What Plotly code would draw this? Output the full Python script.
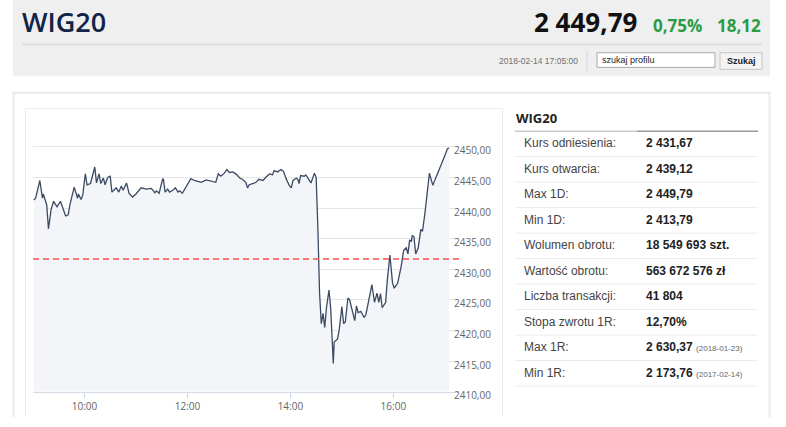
import plotly.graph_objects as go

# intraday WIG20 quotes, 2018-02-14
session_day = "2018-02-14"
times = ["09:01", "09:03", "09:08", "09:11", "09:12", "09:15", "09:16", "09:18", "09:21", "09:24",
         "09:28", "09:32", "09:35", "09:38", "09:41", "09:43", "09:48", "09:52", "09:53", "09:56",
         "09:58", "10:01", "10:03", "10:07", "10:12", "10:14", "10:17", "10:19", "10:22", "10:24",
         "10:27", "10:30", "10:32", "10:37", "10:40", "10:43", "10:45", "10:49", "10:52", "10:56",
         "11:00", "11:06", "11:12", "11:18", "11:22", "11:24", "11:27", "11:31", "11:32", "11:34",
         "11:37", "11:39", "11:43", "11:46", "11:49", "11:51", "11:54", "11:58", "12:04", "12:08",
         "12:16", "12:22", "12:29", "12:33", "12:36", "12:39", "12:43", "12:46", "12:49", "12:53",
         "12:57", "13:01", "13:04", "13:08", "13:10", "13:12", "13:16", "13:20", "13:23", "13:28",
         "13:32", "13:36", "13:39", "13:41", "13:45", "13:49", "13:52", "13:55", "13:59", "14:01",
         "14:03", "14:07", "14:09", "14:10", "14:12", "14:16", "14:18", "14:22", "14:24", "14:28",
         "14:30", "14:32", "14:34", "14:36", "14:38", "14:40", "14:42", "14:45", "14:47", "14:50",
         "14:51", "14:55", "14:57", "15:00", "15:02", "15:04", "15:07", "15:09", "15:11", "15:15",
         "15:17", "15:19", "15:22", "15:26", "15:28", "15:32", "15:35", "15:38", "15:41", "15:43",
         "15:45", "15:47", "15:49", "15:51", "15:53", "15:56", "15:59", "16:01", "16:05", "16:09",
         "16:12", "16:15", "16:17", "16:19", "16:21", "16:22", "16:24", "16:26", "16:29", "16:32",
         "16:34", "16:37", "16:42", "16:46", "16:49", "16:54", "16:59", "17:03", "17:05"]
quotes = [2441.3, 2441.6, 2444.5, 2441.6, 2442.3, 2440.8, 2440.5, 2436.6, 2439.7, 2441.1,
          2440.2, 2441.1, 2439.7, 2438.7, 2438.9, 2440.5, 2443.4, 2441.6, 2442.3, 2441.4,
          2442.1, 2445.6, 2443.8, 2444.0, 2446.7, 2444.1, 2445.6, 2444.0, 2444.9, 2443.8,
          2445.0, 2445.2, 2442.6, 2443.3, 2442.6, 2443.6, 2442.9, 2444.1, 2442.4, 2441.8,
          2442.3, 2443.3, 2443.1, 2443.2, 2442.5, 2442.8, 2442.4, 2444.7, 2444.7, 2442.6,
          2443.1, 2442.6, 2442.9, 2443.3, 2442.6, 2442.8, 2442.4, 2443.4, 2444.8, 2444.5,
          2444.2, 2444.6, 2444.4, 2444.2, 2445.6, 2445.2, 2445.7, 2446.3, 2445.8, 2445.9,
          2445.5, 2444.9, 2444.7, 2444.2, 2443.3, 2443.8, 2444.0, 2444.2, 2444.7, 2444.5,
          2445.1, 2445.6, 2445.4, 2446.1, 2445.9, 2446.3, 2446.0, 2444.8, 2443.6, 2443.3,
          2444.5, 2444.9, 2444.6, 2444.0, 2445.3, 2445.2, 2445.4, 2444.5, 2444.1, 2445.7,
          2445.0, 2436.8, 2426.1, 2421.1, 2422.8, 2420.5, 2423.7, 2426.6, 2423.5, 2414.6,
          2418.1, 2418.6, 2420.2, 2423.9, 2421.1, 2421.4, 2425.3, 2425.0, 2423.7, 2421.6,
          2424.0, 2422.9, 2423.1, 2422.1, 2422.6, 2425.6, 2427.5, 2424.6, 2426.1, 2424.6,
          2426.0, 2423.7, 2424.1, 2424.6, 2428.3, 2432.3, 2427.8, 2426.9, 2427.7, 2430.4,
          2433.1, 2433.5, 2432.5, 2434.8, 2434.5, 2435.5, 2435.3, 2432.5, 2433.5, 2436.5,
          2436.2, 2439.4, 2445.7, 2443.7, 2444.8, 2446.4, 2448.2, 2449.7, 2449.79]
reference_level = 2431.67

y_ticks = [2410, 2415, 2420, 2425, 2430, 2435, 2440, 2445, 2450, 2455]
y_tick_labels = ["2410,00", "2415,00", "2420,00", "2425,00", "2430,00",
                 "2435,00", "2440,00", "2445,00", "2450,00", ""]

# side table
table_title = "WIG20"
row_labels = ["Kurs odniesienia:", "Kurs otwarcia:", "Max 1D:", "Min 1D:", "Wolumen obrotu:",
              "Wartość obrotu:", "Liczba transakcji:", "Stopa zwrotu 1R:", "Max 1R:", "Min 1R:"]
row_values = ["2 431,67", "2 439,12", "2 449,79", "2 413,79", "18 549 693 szt.",
              "563 672 576 zł", "41 804", "12,70%", "2 630,37", "2 173,76"]
row_notes = ["", "", "", "", "", "", "", "", "(2018-01-23)", "(2017-02-14)"]

# header
index_name = "WIG20"
last_price = "2 449,79"
change_pct = "0,75%"
change_abs = "18,12"
stamp = "2018-02-14 17:05:00"

W, H = 786, 427


def px(x):
    return x / W


def py(y):
    return 1 - y / H


def hline(x0, x1, y, color, width=1):
    return dict(type="line", xref="paper", yref="paper", x0=px(x0), x1=px(x1), y0=py(y), y1=py(y),
                line=dict(color=color, width=width), layer="below")


def vline(x, y0, y1, color, width=1):
    return dict(type="line", xref="paper", yref="paper", x0=px(x), x1=px(x), y0=py(y0), y1=py(y1),
                line=dict(color=color, width=width), layer="below")


def box(x0, x1, y0, y1, fill, edge=None):
    return dict(type="rect", xref="paper", yref="paper", x0=px(x0), x1=px(x1), y0=py(y1), y1=py(y0),
                fillcolor=fill, line=dict(color=edge or fill, width=1 if edge else 0), layer="below")


x_full = ["%s %s" % (session_day, t) for t in times]

fig = go.Figure()
fig.add_trace(go.Scatter(x=x_full, y=quotes, mode="lines",
                         line=dict(color="#3b4a63", width=1.3),
                         fill="tozeroy", fillcolor="#f4f5f8",
                         hoverinfo="skip", showlegend=False))

shapes = []
# header box
shapes.append(box(13, 770, 0, 78, "#efefef"))
shapes.append(hline(22, 762, 45.5, "#dcdcdc", 1.5))
shapes.append(vline(587, 52, 73, "#d8d8d8"))
# search input + button
shapes.append(box(597, 715, 54, 69, "#ffffff", "#a9a9a9"))
shapes.append(box(720, 762, 54, 71, "#f4f4f4", "#c4c4c4"))
# content panel and chart box (open at the bottom, the page continues)
shapes.append(hline(12.5, 770.5, 95, "#eaeaea", 2))
shapes.append(vline(13.5, 94, 427, "#eaeaea", 2))
shapes.append(vline(769.5, 94, 427, "#eaeaea", 2))
shapes.append(hline(25, 503, 111, "#ededed"))
shapes.append(vline(25.5, 111, 427, "#ededed"))
shapes.append(vline(502.5, 111, 427, "#ededed"))
# reference level
shapes.append(dict(type="line", xref="paper", yref="y", x0=px(33), x1=px(459),
                   y0=reference_level, y1=reference_level,
                   line=dict(color="#ff4d4d", width=1.3, dash="6px,4px"), layer="above"))
# table header rule
shapes.append(hline(515, 637, 134.3, "#c8c8c8", 1.5))
shapes.append(hline(637, 758, 134.3, "#9a9a9a", 1.5))

row_top, row_h = 134.3, 26.1
annotations = []
for i, lab in enumerate(row_labels):
    yc = row_top + 12.5 + i * row_h
    shapes.append(hline(515, 758, row_top + (i + 1) * row_h, "#ececec"))
    annotations.append(dict(x=px(522), y=py(yc), text=lab, xanchor="left", yanchor="middle",
                            font=dict(family="Liberation Sans, Arial", size=12, color="#444444")))
    txt = "<b>%s</b>" % row_values[i]
    if row_notes[i]:
        txt += " <span style='font-size:8px;color:#666666'>%s</span>" % row_notes[i]
    annotations.append(dict(x=px(644), y=py(yc), text=txt, xanchor="left", yanchor="middle",
                            font=dict(family="Liberation Sans, Arial", size=12, color="#222222")))

annotations.append(dict(x=px(514), y=py(120.5), text="<b>%s</b>" % table_title, xanchor="left", yanchor="middle",
                        font=dict(family="Open Sans", size=13, color="#222222")))

# header texts
annotations.append(dict(x=px(20), y=py(22), text=index_name, xanchor="left", yanchor="middle",
                        font=dict(family="Open Sans", size=27, color="#0f2446", weight=600)))
annotations.append(dict(x=px(639), y=py(23), text="<b>%s</b>" % last_price, xanchor="right", yanchor="middle",
                        font=dict(family="Open Sans", size=26, color="#111111")))
annotations.append(dict(x=px(651), y=py(26), text="<b>%s</b>" % change_pct, xanchor="left", yanchor="middle",
                        font=dict(family="Open Sans", size=17, color="#2a9c46")))
annotations.append(dict(x=px(763), y=py(26), text="<b>%s</b>" % change_abs, xanchor="right", yanchor="middle",
                        font=dict(family="Open Sans", size=17, color="#2a9c46")))
annotations.append(dict(x=px(580), y=py(62), text=stamp, xanchor="right", yanchor="middle",
                        font=dict(family="Liberation Sans, Arial", size=8.5, color="#707070")))
annotations.append(dict(x=px(600), y=py(61.5), text="szukaj profilu", xanchor="left", yanchor="middle",
                        font=dict(family="Liberation Sans, Arial", size=9, color="#222222")))
annotations.append(dict(x=px(741), y=py(62.5), text="<b>Szukaj</b>", xanchor="center", yanchor="middle",
                        font=dict(family="Liberation Sans, Arial", size=9, color="#222222")))
for a in annotations:
    a.update(xref="paper", yref="paper", showarrow=False)

fig.update_layout(
    width=W, height=H, autosize=False,
    margin=dict(l=0, r=0, t=0, b=0),
    paper_bgcolor="#ffffff", plot_bgcolor="rgba(0,0,0,0)",
    shapes=shapes, annotations=annotations, showlegend=False,
    xaxis=dict(domain=[px(33), px(459)], type="date",
               range=["%s 09:00" % session_day, "%s 17:16:30" % session_day],
               tick0="%s 10:00" % session_day, dtick=2 * 3600 * 1000, tickformat="%H:%M",
               ticks="outside", ticklen=5, tickcolor="#ccd6eb",
               showline=True, linecolor="#d5dbe5", linewidth=1,
               showgrid=False, zeroline=False,
               tickfont=dict(family="Open Sans", size=10, color="#666666")),
    yaxis=dict(domain=[py(401), py(119)], range=[2410, 2455], side="right",
               tickvals=y_ticks, ticktext=y_tick_labels,
               showgrid=True, gridcolor="#e6e6e6", gridwidth=1, zeroline=False, showline=False,
               ticks="", ticklabelstandoff=-6, ticklabelshift=4,
               tickfont=dict(family="Open Sans", size=10, color="#666666")),
)

# page chrome: no margins, no inline-block gap under the svg
page_fix = ("document.documentElement.style.overflow='hidden';"
            "document.body.style.margin='0';document.body.style.overflow='hidden';"
            "document.body.style.height='427px';"
            "document.querySelectorAll('.svg-container').forEach(function(e){e.style.display='block';});")
fig.write_html("out.html", config={"displayModeBar": False}, post_script=page_fix)
